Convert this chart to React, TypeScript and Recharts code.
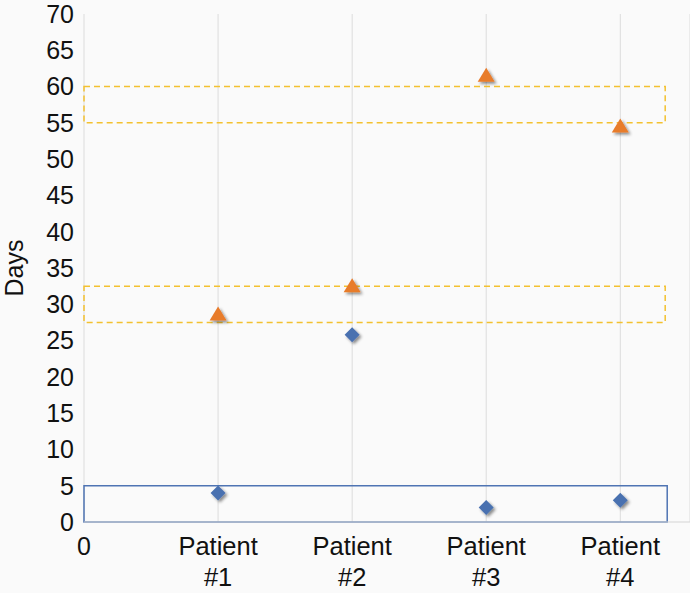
import React from 'react';
import { ScatterChart, Scatter, XAxis, YAxis, CartesianGrid, ReferenceArea } from 'recharts';

const patients = ['Patient #1', 'Patient #2', 'Patient #3', 'Patient #4'];
const patientX = [1, 2, 3, 4];
const blueDays = [4, 25.8, 2, 3];
const orangeDays = [28.6, 32.5, 61.5, 54.5];
const yTicks = [0, 5, 10, 15, 20, 25, 30, 35, 40, 45, 50, 55, 60, 65, 70];
const xTicks = [0, 1, 2, 3, 4];

const blueData = patientX.map((x, i) => ({ x, y: blueDays[i] }));
const orangeData = patientX.map((x, i) => ({ x, y: orangeDays[i] }));

const FONT = '"Liberation Sans", Arial, Helvetica, sans-serif';

const Diamond = (props: any) => {
  const { cx, cy } = props;
  const r = 7.5;
  return (
    <path
      d={`M${cx},${cy - r} L${cx + r},${cy} L${cx},${cy + r} L${cx - r},${cy} Z`}
      fill="#4a71b0"
      filter="url(#shadow)"
    />
  );
};

const Triangle = (props: any) => {
  const { cx, cy } = props;
  return (
    <path
      d={`M${cx},${cy - 8} L${cx + 8.5},${cy + 6} L${cx - 8.5},${cy + 6} Z`}
      fill="#e87b2b"
      filter="url(#shadow)"
    />
  );
};

const XTick = (props: any) => {
  const { x, y, payload } = props;
  const v = payload.value;
  if (v === 0) {
    return (
      <text x={x} y={y + 25} textAnchor="middle" fontSize={25} fontFamily={FONT} fill="#111">
        0
      </text>
    );
  }
  const label = patients[v - 1] || '';
  const parts = label.split(' ');
  return (
    <text textAnchor="middle" fontSize={25.5} fontFamily={FONT} fill="#111">
      <tspan x={x} y={y + 25}>{parts[0]}</tspan>
      <tspan x={x} y={y + 56}>{parts[1]}</tspan>
    </text>
  );
};

export default function App() {
  return (
    <div style={{ position: 'absolute', left: 0, top: 0, width: 690, height: 593, background: '#fafafa' }}>
      <svg width={0} height={0} style={{ position: 'absolute' }}>
        <defs>
          <filter id="shadow" x="-50%" y="-50%" width="200%" height="200%">
            <feDropShadow dx="2" dy="2" stdDeviation="1.5" floodColor="#000" floodOpacity="0.45" />
          </filter>
        </defs>
      </svg>
      <ScatterChart width={690} height={593} margin={{ top: 14, right: 0, bottom: 0, left: 0 }}>
        <CartesianGrid horizontal={false} vertical={true} stroke="#dcdcdc" />
        <XAxis
          type="number"
          dataKey="x"
          domain={[0, 4.52]}
          ticks={xTicks}
          interval={0}
          allowDataOverflow
          height={71}
          axisLine={{ stroke: '#d4d4d4' }}
          tickLine={false}
          tick={<XTick />}
        />
        <YAxis
          type="number"
          dataKey="y"
          domain={[0, 70]}
          ticks={yTicks}
          interval={0}
          width={84}
          axisLine={false}
          tickLine={false}
          tickMargin={4}
          tick={{ fontSize: 25, fill: '#111', fontFamily: FONT }}
          label={{
            content: () => (
              <text
                x={23}
                y={268}
                transform="rotate(-90 23 268)"
                textAnchor="middle"
                fontSize={25}
                fontFamily={FONT}
                fill="#111"
              >
                Days
              </text>
            ),
          }}
        />
        <ReferenceArea x1={0} x2={4.35} y1={0} y2={5} fill="none" stroke="#4f74b3" strokeWidth={1.5} ifOverflow="visible" />
        <ReferenceArea x1={0} x2={4.335} y1={27.5} y2={32.5} fill="none" stroke="#f3c130" strokeWidth={1.5} strokeDasharray="6 4" ifOverflow="visible" />
        <ReferenceArea x1={0} x2={4.335} y1={55} y2={60} fill="none" stroke="#f3c130" strokeWidth={1.5} strokeDasharray="6 4" ifOverflow="visible" />
        <Scatter data={blueData} shape={<Diamond />} isAnimationActive={false} />
        <Scatter data={orangeData} shape={<Triangle />} isAnimationActive={false} />
      </ScatterChart>
    </div>
  );
}
